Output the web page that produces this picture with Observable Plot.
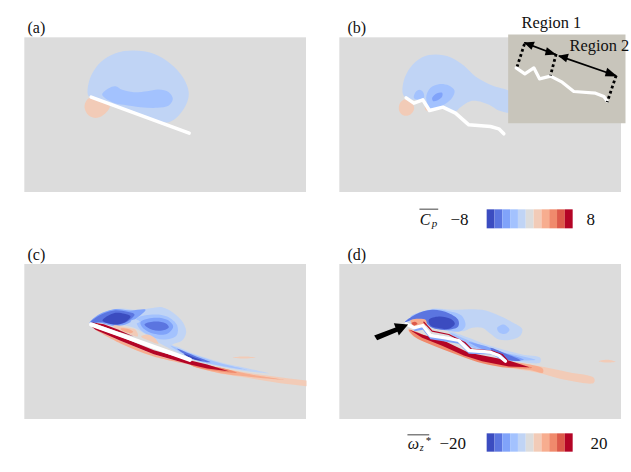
<!DOCTYPE html>
<html><head><meta charset="utf-8">
<script src="https://cdn.jsdelivr.net/npm/d3@7"></script>
<script src="https://cdn.jsdelivr.net/npm/@observablehq/plot@0.6"></script>
<style>html,body{margin:0;padding:0;background:#fff}svg{display:block}</style>
</head><body><div id="chart"></div>
<script>
// Contour levels (colour index -5..5)
const levels = [-5,-4,-3,-2,-1,0,1,2,3,4,5];
const palette = ["#3b4cc0","#5b75e0","#80a3fa","#a3c2fe","#c0d4f5","#dcdcdc","#f2cbb7","#f7ad8f","#f08a6c","#dd5a4a","#b40426"];
const cpTicks = ["\u22128","8"];
const wTicks = ["\u221220","20"];
const panelNames = ["(a)","(b)","(c)","(d)"];

// All outlines below are in a 3x grid local to each panel
const a_outer = [[203,255],[208,205],[240,155],[285,128],[340,120],[400,130],[450,160],[490,205],[505,250],[490,295],[445,335],[330,300],[215,262]];
const a_inner = [[245,252],[265,233],[285,227],[305,238],[340,245],[380,242],[415,237],[445,245],[457,265],[445,285],[410,292],[360,290],[310,283],[275,275]];
const a_lee = [[192,290],[198,270],[210,262],[268,285],[255,308],[230,322],[205,315]];
const a_plate = [[212,260],[506,368]];

const b_outer = [[202,250],[205,210],[225,170],[260,140],[300,132],[345,140],[385,165],[420,198],[470,225],[530,248],[530,305],[490,300],[465,285],[440,275],[405,272],[375,290],[352,308],[300,280],[212,262]];
const b_fill = [[262,272],[285,300],[322,292],[352,310],[300,278]];
const b_inner1 = [[235,262],[240,245],[252,238],[263,245],[265,262],[245,267]];
const b_inner2 = [[272,262],[285,232],[310,221],[340,225],[357,240],[350,262],[330,280],[310,290],[285,293]];
const b_inner3 = [[290,262],[305,248],[320,247],[320,258],[305,270],[293,272]];
const b_lee = [[190,291],[195,275],[210,266],[230,278],[236,295],[225,312],[205,315],[193,305]];
const b_lee2 = [[268,290],[278,288],[280,302],[272,300]];
const b_plate = [[212,262],[235,278],[262,268],[282,300],[322,290],[360,308],[400,343],[465,348],[490,355],[505,370]];
const inset = [[518,72],[870,72],[870,338],[518,338]];
const inset_plate = [[542,172],[568,190],[595,172],[612,205],[645,197],[680,215],[715,243],[780,248],[805,258],[815,272]];
const dash1 = [[567,100],[545,168]];
const dash2 = [[662,130],[645,195]];
const dash3 = [[842,195],[815,275]];
const span1 = [[568,97],[660,132]];
const span2 = [[672,137],[840,195]];
const heads = [
  [[565,96],[598,94],[588,118]], [[662,132],[634,110],[628,134]],
  [[668,136],[700,130],[692,155]], [[846,198],[815,172],[808,197]]
];

const c_outer = [[207,248],[225,230],[260,212],[300,204],[350,208],[390,203],[425,200],[460,218],[487,245],[497,275],[485,300],[455,313],[475,320],[520,340],[600,365],[680,383],[745,398],[680,392],[600,378],[520,358],[430,315],[380,285],[340,262],[280,250],[230,245]];
const c_v2 = [[348,235],[395,222],[440,228],[470,255],[468,285],[430,297],[385,285],[355,262]];
const c_v3 = [[360,245],[400,232],[440,238],[458,258],[440,280],[400,280],[370,265]];
const c_v4 = [[372,252],[400,243],[435,248],[445,260],[425,270],[395,268]];
const c_le3 = [[207,248],[230,225],[280,206],[330,210],[375,208],[350,232],[315,252],[280,256],[230,246]];
const c_le4 = [[210,246],[235,226],[280,210],[320,214],[342,222],[322,242],[290,252],[245,245]];
const c_le5 = [[246,240],[280,218],[312,220],[330,228],[312,246],[280,252]];
const c_gap = [[330,242],[345,237],[358,243],[345,249]];
const c_up1 = [[280,255],[320,262],[345,268],[352,287],[320,278],[280,262]];
const c_up1b = [[300,264],[325,266],[338,274],[330,278],[305,270]];
const c_up2 = [[362,288],[380,282],[400,290],[414,310],[385,300]];
const c_upr = [[212,245],[250,251],[290,266],[340,288],[290,272],[240,255]];
const c_w2 = [[450,316],[520,342],[600,368],[680,388],[600,376],[520,356]];
const c_w4 = [[470,325],[520,345],[570,365],[520,356]];
const c_w5 = [[490,340],[520,350],[545,360],[512,354]];
const c_r1 = [[500,368],[600,383],[700,400],[800,413],[858,420],[858,437],[780,428],[680,412],[600,400],[520,378]];
const c_r2 = [[505,368],[600,382],[680,400],[790,418],[680,408],[600,398],[520,378]];
const c_r3 = [[505,368],[600,382],[650,397],[600,393],[520,378]];
const c_r5 = [[212,257],[300,289],[400,329],[510,360],[560,372],[625,392],[560,384],[505,371],[400,341],[300,301],[225,268]];
const c_ro = [[225,268],[300,301],[400,341],[505,371],[400,348],[300,309]];
const c_plate = [[212,252],[508,358]];
const c_wisp = [[637,351],[670,348],[705,351],[670,354]];

const d_outer = [[208,245],[240,222],[290,205],[350,208],[440,208],[490,225],[530,245],[560,265],[555,285],[530,297],[490,297],[465,280],[440,262],[410,262],[385,272],[370,270],[290,240]];
const d_v2 = [[485,262],[505,252],[522,268],[510,280],[490,275]];
const d_le2 = [[225,230],[290,207],[340,212],[378,225],[390,255],[375,272],[320,268],[280,255]];
const d_le4 = [[208,245],[240,222],[290,208],[340,218],[368,238],[368,258],[335,268],[290,262],[270,245],[240,236]];
const d_le5 = [[280,238],[310,228],[345,235],[358,250],[340,265],[305,262],[285,255]];
const d_w0 = [[338,272],[400,292],[445,310],[505,328],[560,342],[614,352],[614,366],[560,365],[515,360],[460,338],[390,315]];
const d_w1 = [[345,278],[400,300],[440,315],[500,335],[560,347],[600,358],[560,360],[515,358],[460,335],[390,312]];
const d_w3 = [[400,305],[460,320],[510,338],[565,358],[515,358],[460,335]];
const d_w4 = [[465,322],[500,335],[555,360],[515,358],[475,338]];
const d_r1 = [[218,265],[300,300],[390,340],[500,365],[600,375],[700,395],[775,412],[775,427],[700,420],[600,395],[480,375],[390,345],[300,315],[230,285]];
const d_r2 = [[510,366],[600,376],[622,385],[622,397],[590,390],[510,376]];
const d_r3 = [[220,268],[300,298],[390,335],[500,360],[590,382],[520,382],[440,368],[385,350],[300,318],[235,287]];
const d_r5 = [[222,268],[260,282],[330,303],[400,337],[470,350],[520,360],[582,380],[520,378],[440,362],[385,345],[320,316],[260,292]];
const d_up = [[225,240],[270,238],[272,256],[240,260]];
const d_upr = [[228,248],[238,244],[246,250],[236,255]];
const d_blue = [[222,256],[245,262],[262,255],[285,280],[340,290],[380,308],[402,332],[465,340],[495,350],[510,365],[470,342],[400,340],[370,310],[285,296],[262,268],[238,272]];
const d_red = [[265,245],[290,272],[340,282],[388,306],[408,326],[470,332],[500,342],[516,360]];
const d_plate = [[212,250],[235,262],[262,255],[285,285],[330,292],[370,300],[400,330],[465,335],[490,345],[510,362]];
const d_arrow = [[116,285],[180,261],[175,248],[218,252],[190,285],[186,274],[125,299]];
const d_wisp = [[790,362],[815,358],[840,364],[815,366]];

const bgCorners = {a:[13,82,858,546], b:[13,82,858,546], c:[13,72,858,537], d:[13,72,858,537]};
const off = {a:[60,30], b:[1005,30], c:[60,720], d:[1005,720]};
const place = (p, pts) => pts.map(([x,y]) => ({x:x+off[p][0], y:y+off[p][1]}));

const blob = (p, pts, level) => Plot.line(place(p,pts), {x:"x", y:"y", fill:() => level, stroke:null, curve:"catmull-rom-closed"});
const poly = (p, pts, level) => Plot.line(place(p,pts), {x:"x", y:"y", fill:() => level, stroke:null, curve:"linear-closed"});
const black = (p, pts) => Plot.line(place(p,pts), {x:"x", y:"y", fill:"#000", stroke:null, curve:"linear-closed"});
const stroke = (p, pts, c, w, extra={}) => Plot.line(place(p,pts), {x:"x", y:"y", stroke:c, strokeWidth:w, strokeLinejoin:"round", strokeLinecap:"round", ...extra});
const bg = p => { const [x1,y1,x2,y2]=bgCorners[p]; return Plot.rect([0],{x1:()=>x1+off[p][0],x2:()=>x2+off[p][0],y1:()=>y1+off[p][1],y2:()=>y2+off[p][1],fill:()=>0}); };

const serif = "Liberation Serif, Times New Roman, serif";
const label = (txt,x,y,size,extra={}) => Plot.text([txt],{x:()=>x,y:()=>y,text:d=>d,fontSize:size,fontFamily:serif,textAnchor:"start",lineAnchor:"bottom",fill:"#111",...extra});
const bar = (yTop,yBot) => Plot.rect(levels,{x1:(d,i)=>1460+i*258/11,x2:(d,i)=>1460+(i+1)*258/11,y1:()=>yTop,y2:()=>yBot,fill:d=>d});

const chart = Plot.plot({
  width:631, height:472, margin:0,
  x:{domain:[0,1893],axis:null}, y:{domain:[0,1416],reverse:true,axis:null},
  color:{type:"ordinal",domain:levels,range:palette},
  style:{background:"#fff"},
  marks:[
    bg("a"), bg("b"), bg("c"), bg("d"),
    // (a)
    blob("a",a_outer,-1), blob("a",a_inner,-2), blob("a",a_lee,1), stroke("a",a_plate,"#fff",3.5),
    // (b)
    blob("b",b_outer,-1), poly("b",b_fill,-1), blob("b",b_inner1,-2), blob("b",b_inner2,-2), blob("b",b_inner3,-3),
    blob("b",b_lee,1), blob("b",b_lee2,1), stroke("b",b_plate,"#fff",3.5),
    Plot.line(place("b",inset),{x:"x",y:"y",fill:"#c8c5bb",stroke:null,curve:"linear-closed"}),
    stroke("b",inset_plate,"#fff",3.2),
    stroke("b",dash1,"#000",2.8,{strokeDasharray:"2.8 2.6",strokeLinecap:"butt"}),
    stroke("b",dash2,"#000",2.8,{strokeDasharray:"2.8 2.6",strokeLinecap:"butt"}),
    stroke("b",dash3,"#000",2.8,{strokeDasharray:"2.8 2.6",strokeLinecap:"butt"}),
    stroke("b",span1,"#000",1.7), stroke("b",span2,"#000",1.7),
    ...heads.map(h => black("b",h)),
    // (c)
    blob("c",c_outer,-1), blob("c",c_v2,-2), blob("c",c_v3,-3), blob("c",c_v4,-4),
    blob("c",c_le3,-3), blob("c",c_le4,-4), blob("c",c_le5,-5), blob("c",c_gap,-1),
    blob("c",c_w2,-2), blob("c",c_w4,-4), blob("c",c_w5,-5),
    blob("c",c_up1,1), blob("c",c_up1b,2), blob("c",c_up2,1), blob("c",c_wisp,1),
    poly("c",c_r1,1), blob("c",c_r2,2), blob("c",c_r3,3), blob("c",c_ro,2), poly("c",c_r5,5), poly("c",c_upr,5),
    stroke("c",c_plate,"#fff",4.2),
    // (d)
    blob("d",d_outer,-1), blob("d",d_v2,-2), blob("d",d_le2,-2), blob("d",d_le4,-4), blob("d",d_le5,-5),
    blob("d",d_w0,-1), blob("d",d_w1,-2), blob("d",d_w3,-3), blob("d",d_w4,-4),
    blob("d",d_r1,1), blob("d",d_r2,2), blob("d",d_r3,3), poly("d",d_r5,5),
    blob("d",d_up,2), blob("d",d_upr,4), poly("d",d_blue,-3), stroke("d",d_red,"#b40426",1.2),
    stroke("d",d_plate,"#fff",3.3), blob("d",d_wisp,1), black("d",d_arrow),
    // panel letters
    label(panelNames[0],81,96,16), label(panelNames[1],1041,96,16),
    label(panelNames[2],81,777,16), label(panelNames[3],1041,777,16),
    // inset text
    label("Region 1",1563,82,16.4), label("Region 2",1707,150,16.4),
    // colour bars
    bar(628,685), bar(1300,1355),
    label(cpTicks[0],1350,672,17), label(cpTicks[1],1758,672,17),
    label(wTicks[0],1317,1344,17), label(wTicks[1],1770,1344,17),
    // Cp symbol
    label("C",1258,672,16,{fontStyle:"italic"}), label("p",1294,680,11,{fontStyle:"italic"}),
    Plot.line([{x:1258,y:626},{x:1312,y:626}],{x:"x",y:"y",stroke:"#111",strokeWidth:0.8}),
    // omega symbol
    label("\u03c9",1222,1344,16,{fontStyle:"italic"}), label("z",1258,1350,10,{fontStyle:"italic"}), label("*",1274,1330,11,{fontStyle:"italic"}),
    Plot.line([{x:1222,y:1303},{x:1285,y:1303}],{x:"x",y:"y",stroke:"#111",strokeWidth:0.8})
  ]
});
document.getElementById("chart").append(chart);
</script></body></html>
